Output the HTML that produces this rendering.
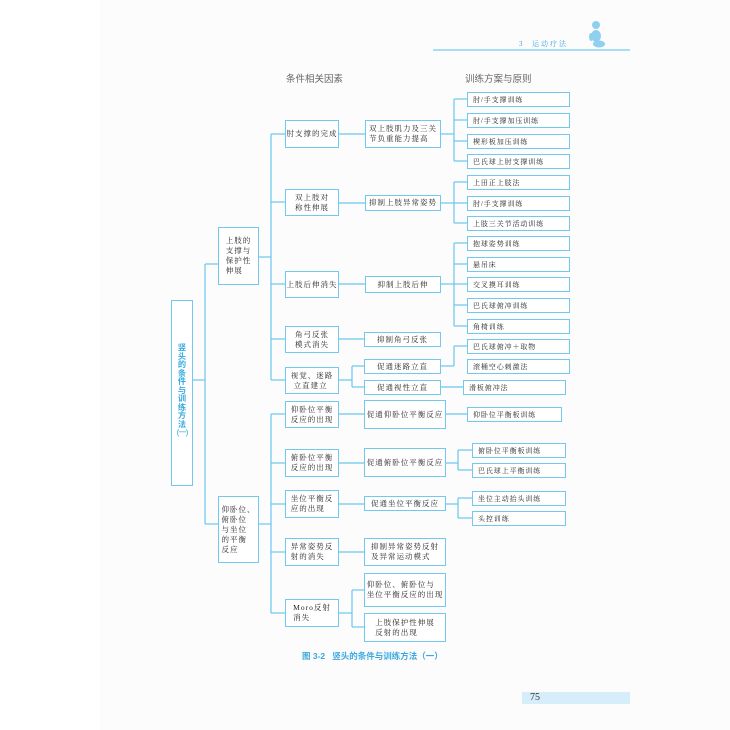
<!DOCTYPE html>
<html><head><meta charset="utf-8">
<style>
html,body{margin:0;padding:0;}
body{width:730px;height:730px;position:relative;background:#fff;overflow:hidden;}
.pg{position:absolute;left:100px;top:0;width:630px;height:730px;background:#fcfcfc;}
.b{position:absolute;box-sizing:border-box;border:1.2px solid #72c8ef;background:#fff;display:flex;align-items:center;justify-content:center;font-family:"Liberation Serif","Noto Serif CJK SC",serif;font-size:7.5px;line-height:10px;color:#262626;letter-spacing:1px;white-space:nowrap;}
.b>div{text-align:left;}
.l4{justify-content:flex-start;padding-left:5px;font-size:7px;letter-spacing:0.9px;}
.hd{position:absolute;font-family:"Liberation Sans","Noto Sans CJK SC",sans-serif;font-size:9.5px;color:#666;white-space:nowrap;}
svg{position:absolute;left:0;top:0;}
</style></head><body>
<div class="pg"></div>

<!-- top header -->
<div style="position:absolute;left:433px;top:49px;width:197px;height:2px;background:#a9ddf3;"></div>
<div style="position:absolute;left:519px;top:39px;font-family:'Liberation Serif','Noto Serif CJK SC',serif;font-size:7px;color:#3aa6dc;letter-spacing:2px;white-space:nowrap;">3&nbsp;&nbsp;运动疗法</div>
<svg width="730" height="730" style="pointer-events:none">
  <g fill="#8fd0f0">
    <circle cx="596" cy="25" r="4"/>
    <ellipse cx="596" cy="36" rx="5" ry="6"/>
    <ellipse cx="599" cy="44" rx="6" ry="3.5"/>
    <ellipse cx="591" cy="37" rx="2" ry="4"/>
  </g>
  <g stroke="#6cc6ef" stroke-width="1.2" fill="none">
    <line x1="193" y1="380" x2="205" y2="380"/>
    <line x1="205" y1="264" x2="205" y2="524"/>
    <line x1="205" y1="264" x2="218" y2="264"/>
    <line x1="205" y1="524" x2="218" y2="524"/>
    <line x1="259" y1="257" x2="271" y2="257"/>
    <line x1="271" y1="134" x2="271" y2="380"/>
    <line x1="271" y1="134" x2="285" y2="134"/>
    <line x1="271" y1="202" x2="285" y2="202"/>
    <line x1="271" y1="284" x2="285" y2="284"/>
    <line x1="271" y1="339" x2="285" y2="339"/>
    <line x1="271" y1="380" x2="285" y2="380"/>
    <line x1="259" y1="524" x2="271" y2="524"/>
    <line x1="271" y1="414" x2="271" y2="613"/>
    <line x1="271" y1="414" x2="285" y2="414"/>
    <line x1="271" y1="463" x2="285" y2="463"/>
    <line x1="271" y1="504" x2="285" y2="504"/>
    <line x1="271" y1="552" x2="285" y2="552"/>
    <line x1="271" y1="613" x2="285" y2="613"/>
    <line x1="339" y1="134" x2="365" y2="134"/>
    <line x1="339" y1="203" x2="365" y2="203"/>
    <line x1="339" y1="284" x2="365" y2="284"/>
    <line x1="339" y1="339" x2="364" y2="339"/>
    <line x1="339" y1="380" x2="352" y2="380"/>
    <line x1="352" y1="366" x2="352" y2="387"/>
    <line x1="352" y1="366" x2="364" y2="366"/>
    <line x1="352" y1="387" x2="364" y2="387"/>
    <line x1="339" y1="414" x2="364" y2="414"/>
    <line x1="339" y1="463" x2="364" y2="463"/>
    <line x1="339" y1="504" x2="364" y2="504"/>
    <line x1="339" y1="552" x2="364" y2="552"/>
    <line x1="339" y1="613" x2="352" y2="613"/>
    <line x1="352" y1="590" x2="352" y2="627"/>
    <line x1="352" y1="590" x2="364" y2="590"/>
    <line x1="352" y1="627" x2="364" y2="627"/>
    <line x1="441" y1="134" x2="454" y2="134"/>
    <line x1="454" y1="99" x2="454" y2="161"/>
    <line x1="454" y1="99" x2="467" y2="99"/>
    <line x1="454" y1="120" x2="467" y2="120"/>
    <line x1="454" y1="141" x2="467" y2="141"/>
    <line x1="454" y1="161" x2="467" y2="161"/>
    <line x1="441" y1="203" x2="454" y2="203"/>
    <line x1="454" y1="182" x2="454" y2="223"/>
    <line x1="454" y1="182" x2="467" y2="182"/>
    <line x1="454" y1="203" x2="467" y2="203"/>
    <line x1="454" y1="223" x2="467" y2="223"/>
    <line x1="441" y1="284" x2="454" y2="284"/>
    <line x1="454" y1="243" x2="454" y2="326"/>
    <line x1="454" y1="243" x2="467" y2="243"/>
    <line x1="454" y1="264" x2="467" y2="264"/>
    <line x1="454" y1="284" x2="467" y2="284"/>
    <line x1="454" y1="305" x2="467" y2="305"/>
    <line x1="454" y1="326" x2="467" y2="326"/>
    <line x1="441" y1="366" x2="454" y2="366"/>
    <line x1="454" y1="346" x2="454" y2="366"/>
    <line x1="454" y1="346" x2="467" y2="346"/>
    <line x1="441" y1="387" x2="463" y2="387"/>
    <line x1="446" y1="414" x2="467" y2="414"/>
    <line x1="446" y1="463" x2="458" y2="463"/>
    <line x1="458" y1="450" x2="458" y2="470"/>
    <line x1="458" y1="450" x2="472" y2="450"/>
    <line x1="458" y1="470" x2="472" y2="470"/>
    <line x1="446" y1="504" x2="458" y2="504"/>
    <line x1="458" y1="498" x2="458" y2="518"/>
    <line x1="458" y1="498" x2="472" y2="498"/>
    <line x1="458" y1="518" x2="472" y2="518"/>
  </g>
</svg>

<div class="hd" style="left:286px;top:71px;">条件相关因素</div>
<div class="hd" style="left:465px;top:71px;">训练方案与原则</div>

<div class="b" style="left:171px;top:300px;width:22px;height:186px;"></div>
<div style="position:absolute;left:171px;top:344px;width:22px;text-align:center;font-family:'Liberation Sans','Noto Sans CJK SC',sans-serif;font-size:8.2px;line-height:8.5px;color:#34aadf;font-weight:bold;">竖<br>头<br>的<br>条<br>件<br>与<br>训<br>练<br>方<br>法<br><span style="letter-spacing:-1px;font-weight:normal;">(一)</span></div>

<div class="b" style="left:218px;top:227px;width:41px;height:58px;"><div>上肢的<br>支撑与<br>保护性<br>伸展</div></div>
<div class="b" style="left:218px;top:496px;width:41px;height:67px;"><div>仰卧位、<br>俯卧位<br>与坐位<br>的平衡<br>反应</div></div>

<div class="b" style="left:285px;top:120px;width:54px;height:28px;"><div>肘支撑的完成</div></div>
<div class="b" style="left:285px;top:189px;width:54px;height:27px;"><div style="text-align:center">双上肢对<br>称性伸展</div></div>
<div class="b" style="left:285px;top:271px;width:54px;height:27px;"><div>上肢后伸消失</div></div>
<div class="b" style="left:285px;top:326px;width:54px;height:27px;"><div style="text-align:center">角弓反张<br>模式消失</div></div>
<div class="b" style="left:285px;top:367px;width:54px;height:27px;"><div>视觉、迷路<br>&nbsp;立直建立</div></div>
<div class="b" style="left:285px;top:401px;width:54px;height:27px;"><div>仰卧位平衡<br>反应的出现</div></div>
<div class="b" style="left:285px;top:449px;width:54px;height:28px;"><div>俯卧位平衡<br>反应的出现</div></div>
<div class="b" style="left:285px;top:490px;width:54px;height:28px;"><div>坐位平衡反<br>应的出现</div></div>
<div class="b" style="left:285px;top:538px;width:54px;height:28px;"><div>异常姿势反<br>射的消失</div></div>
<div class="b" style="left:285px;top:599px;width:54px;height:28px;"><div>Moro反射<br>消失</div></div>

<div class="b" style="left:365px;top:120px;width:76px;height:28px;"><div>双上肢肌力及三关<br>节负重能力提高</div></div>
<div class="b" style="left:365px;top:195px;width:76px;height:16px;"><div>抑制上肢异常姿势</div></div>
<div class="b" style="left:365px;top:276px;width:76px;height:17px;"><div>抑制上肢后伸</div></div>
<div class="b" style="left:364px;top:332px;width:77px;height:15px;"><div>抑制角弓反张</div></div>
<div class="b" style="left:364px;top:359px;width:77px;height:15px;"><div>促通迷路立直</div></div>
<div class="b" style="left:364px;top:380px;width:77px;height:15px;"><div>促通视性立直</div></div>
<div class="b" style="left:364px;top:400px;width:82px;height:29px;"><div>促通仰卧位平衡反应</div></div>
<div class="b" style="left:364px;top:448px;width:82px;height:29px;"><div>促通俯卧位平衡反应</div></div>
<div class="b" style="left:364px;top:496px;width:82px;height:15px;"><div>促通坐位平衡反应</div></div>
<div class="b" style="left:364px;top:538px;width:82px;height:28px;"><div>抑制异常姿势反射<br>及异常运动模式</div></div>
<div class="b" style="left:364px;top:573px;width:82px;height:34px;"><div>仰卧位、俯卧位与<br>坐位平衡反应的出现</div></div>
<div class="b" style="left:364px;top:613px;width:82px;height:29px;"><div>上肢保护性伸展<br>反射的出现</div></div>

<div class="b l4" style="left:467px;top:92px;width:103px;height:15px;">肘/手支撑训练</div>
<div class="b l4" style="left:467px;top:113px;width:103px;height:15px;">肘/手支撑加压训练</div>
<div class="b l4" style="left:467px;top:134px;width:103px;height:15px;">楔形板加压训练</div>
<div class="b l4" style="left:467px;top:154px;width:103px;height:15px;">巴氏球上肘支撑训练</div>

<div class="b l4" style="left:467px;top:175px;width:103px;height:15px;">上田正上肢法</div>
<div class="b l4" style="left:467px;top:196px;width:103px;height:15px;">肘/手支撑训练</div>
<div class="b l4" style="left:467px;top:216px;width:103px;height:15px;">上肢三关节活动训练</div>

<div class="b l4" style="left:467px;top:236px;width:103px;height:15px;">抱球姿势训练</div>
<div class="b l4" style="left:467px;top:257px;width:103px;height:15px;">悬吊床</div>
<div class="b l4" style="left:467px;top:277px;width:103px;height:15px;">交叉摸耳训练</div>
<div class="b l4" style="left:467px;top:298px;width:103px;height:15px;">巴氏球俯冲训练</div>
<div class="b l4" style="left:467px;top:319px;width:103px;height:15px;">角椅训练</div>

<div class="b l4" style="left:467px;top:339px;width:103px;height:15px;">巴氏球俯冲＋取物</div>
<div class="b l4" style="left:467px;top:359px;width:103px;height:15px;">滚桶空心刺激法</div>
<div class="b l4" style="left:463px;top:380px;width:103px;height:15px;">滑板俯冲法</div>

<div class="b l4" style="left:467px;top:407px;width:95px;height:15px;">仰卧位平衡板训练</div>
<div class="b l4" style="left:472px;top:443px;width:94px;height:15px;">俯卧位平衡板训练</div>
<div class="b l4" style="left:472px;top:463px;width:94px;height:15px;">巴氏球上平衡训练</div>
<div class="b l4" style="left:472px;top:491px;width:94px;height:15px;">坐位主动抬头训练</div>
<div class="b l4" style="left:472px;top:511px;width:94px;height:15px;">头控训练</div>

<div style="position:absolute;left:302px;top:650px;font-family:'Liberation Sans','Noto Sans CJK SC',sans-serif;font-size:8.5px;font-weight:bold;color:#3aa8de;white-space:nowrap;">图 3-2&nbsp;&nbsp;&nbsp;竖头的条件与训练方法（一）</div>

<div style="position:absolute;left:522px;top:692px;width:108px;height:12px;background:#d5eefa;"></div>
<div style="position:absolute;left:530px;top:692px;font-family:'Liberation Serif',serif;font-size:10px;line-height:12px;color:#333;">75</div>
</body></html>
